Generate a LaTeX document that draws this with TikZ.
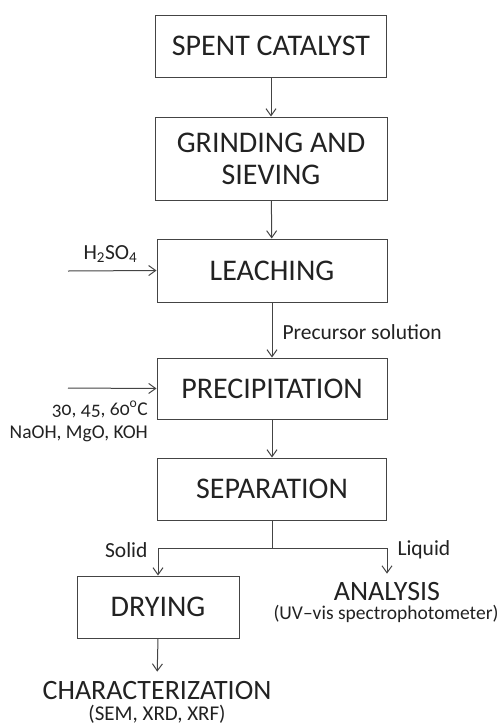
\documentclass[tikz,border=0pt]{standalone}
\usepackage{fontspec}
\setmainfont{Carlito}
\usepackage{tikz}
\usetikzlibrary{arrows.meta}
\definecolor{linegray}{HTML}{444444}
\definecolor{textgray}{HTML}{222222}

\begin{document}
\begin{tikzpicture}[x=1pt,y=-1pt]
\tikzstyle{box}=[draw=linegray,line width=1pt,inner sep=0pt,text=textgray,align=center,font=\fontsize{30}{32}\selectfont];
\tikzstyle{big}=[inner sep=0pt,text=textgray,anchor=base,font=\fontsize{28}{30}\selectfont];
\tikzstyle{lbl}=[inner sep=0pt,text=textgray,font=\fontsize{21.5}{23}\selectfont];
\tikzstyle{note}=[inner sep=0pt,text=textgray,font=\fontsize{19.5}{21}\selectfont];
\tikzstyle{flow}=[draw=linegray,line width=1pt,-{Straight Barb[length=7pt,width=10pt]}];
\useasboundingbox (0,0) rectangle (497,724);
\node[box,minimum width=231pt,minimum height=62pt] (spent) at (271,46) {SPENT CATALYST};
\node[box,minimum width=232pt,minimum height=83pt] (grind) at (271,158.5) {GRINDING AND\\SIEVING};
\node[box,minimum width=230pt,minimum height=63pt] (leach) at (272,270.5) {LEACHING};
\node[box,minimum width=230pt,minimum height=61pt] (precip) at (272,388.5) {PRECIPITATION};
\node[box,minimum width=229pt,minimum height=62pt] (separ) at (272,489) {SEPARATION};
\node[box,minimum width=162pt,minimum height=62pt] (drying) at (158,607) {DRYING};
\node[big] (analysis) at (387,600) {ANALYSIS};
\node[note,anchor=base] (uvvis) at (386,619) {(UV--vis spectrophotometer)};
\node[big] (charac) at (157,699) {CHARACTERIZATION};
\node[note,font=\fontsize{21}{23}\selectfont,anchor=base] (methods) at (157,720) {(SEM, XRD, XRF)};
\coordinate (acid) at (68,271);
\coordinate (base) at (68,388);
\coordinate (split) at (272,548);
% main line
\draw [flow] (spent) -- (grind);
\draw [flow] (grind) -- (leach);
\draw [flow] (leach) -- (precip) node[lbl,midway,anchor=west,xshift=10pt,yshift=-2pt] {Precursor solution};
\draw [flow] (precip) -- (separ);
\draw [draw=linegray,line width=1pt] (separ.south) -- (split);
\draw [flow] (split) -| (drying.north) node[lbl,pos=0.5,anchor=east,xshift=-10pt,yshift=-2pt] {Solid};
\draw [flow,shorten >=8pt] (split) -| (analysis.north) node[lbl,pos=0.5,anchor=west,xshift=10pt,yshift=-2pt] {Liquid};
\draw [flow,shorten >=9pt] (drying.south) -- (charac.north);
% feeds
\draw [flow] (acid) -- (leach.west) node[lbl,pos=0.48,anchor=south,yshift=8pt] {H\textsubscript{2}SO\textsubscript{4}};
\draw [flow] (base) -- (precip.west);
\node[note,anchor=base east] (temps) at (148,415) {\addfontfeatures{Numbers=OldStyle}30, 45, 60\textsuperscript{o}C};
\node[note,anchor=base east] (bases) at (148,438) {NaOH, MgO, KOH};
\end{tikzpicture}
\end{document}
